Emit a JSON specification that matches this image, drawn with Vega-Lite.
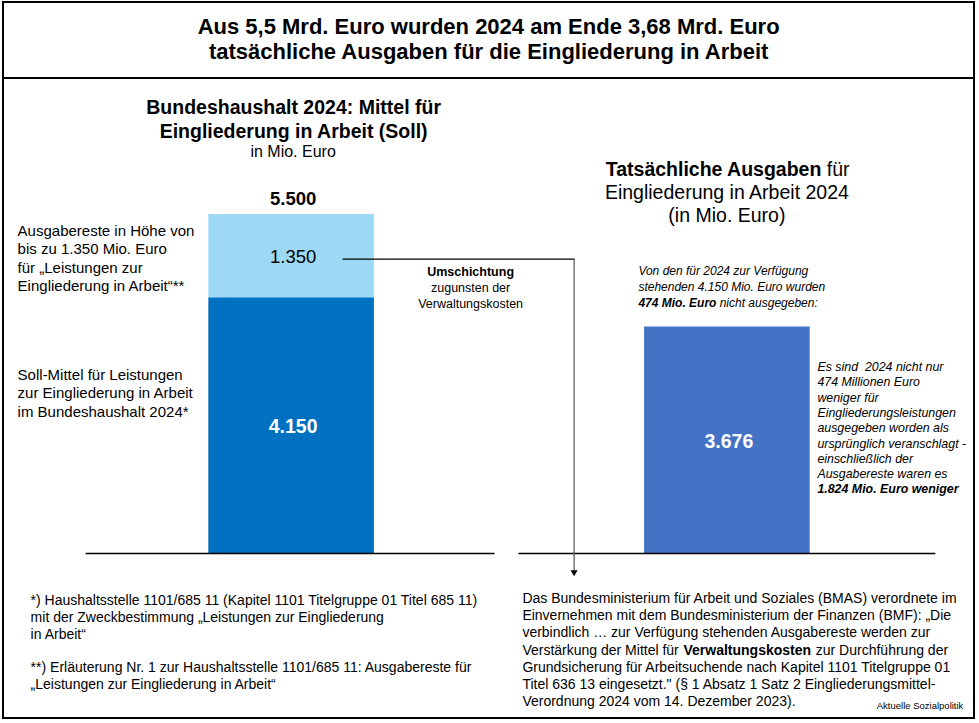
{
  "$schema": "https://vega.github.io/schema/vega-lite/v6.json",
  "width": 979,
  "height": 723,
  "autosize": {"type": "fit", "contains": "padding"},
  "padding": {"left": 2, "top": 2, "right": 4, "bottom": 5},
  "background": "white",
  "config": {
    "view": {"stroke": "black", "strokeWidth": 2},
    "locale": {"number": {"decimal": ",", "thousands": ".", "grouping": [3], "currency": ["", " €"]}},
    "text": {"font": "Liberation Sans", "color": "black"}
  },
  "datasets": {
    "haushalt": [
      {"gruppe": "Soll", "teil": "Soll-Mittel", "wert": 4150},
      {"gruppe": "Soll", "teil": "Ausgabereste", "wert": 1350},
      {"gruppe": "Ist", "teil": "Ist-Ausgaben", "wert": 3676}
    ],
    "eins": [{}]
  },
  "layer": [
    {
      "data": {"name": "haushalt"},
      "mark": {"type": "bar"},
      "encoding": {
        "x": {"field": "gruppe", "type": "nominal", "axis": null,
              "scale": {"domain": ["Soll", "Ist"], "range": [16.5, 995.5], "paddingInner": 0.62, "paddingOuter": 0.4333}},
        "y": {"field": "wert", "type": "quantitative", "axis": null, "stack": "zero",
              "scale": {"domain": [-2665, 8935], "nice": false, "zero": false}},
        "color": {"field": "teil", "type": "nominal", "legend": null,
                  "scale": {"domain": ["Ausgabereste", "Soll-Mittel", "Ist-Ausgaben"], "range": ["#9DD9F5", "#0070C0", "#4472C4"]}},
        "order": {"field": "teil", "sort": "descending"}
      }
    },
    {
      "data": {"name": "haushalt"},
      "mark": {"type": "text", "fontSize": 18.5, "baseline": "middle", "dy": 1.5, "dx": 2},
      "encoding": {
        "x": {"field": "gruppe", "type": "nominal", "axis": null},
        "y": {"field": "wert", "type": "quantitative", "axis": null, "stack": "zero", "bandPosition": 0.5},
        "detail": {"field": "teil"},
        "order": {"field": "teil", "sort": "descending"},
        "text": {"field": "wert", "type": "quantitative", "format": ",d"},
        "opacity": {"condition": {"test": "datum.teil === 'Ausgabereste'", "value": 1}, "value": 0}
      }
    },
    {
      "data": {"name": "haushalt"},
      "mark": {"type": "text", "fontSize": 19.5, "fontWeight": "bold", "color": "white", "baseline": "middle", "dy": 1.5, "dx": 2},
      "encoding": {
        "x": {"field": "gruppe", "type": "nominal", "axis": null},
        "y": {"field": "wert", "type": "quantitative", "axis": null, "stack": "zero", "bandPosition": 0.5},
        "detail": {"field": "teil"},
        "order": {"field": "teil", "sort": "descending"},
        "text": {"field": "wert", "type": "quantitative", "format": ",d"},
        "opacity": {"condition": {"test": "datum.teil === 'Ausgabereste'", "value": 0}, "value": 1}
      }
    },
    {
      "data": {"name": "haushalt"},
      "transform": [
        {"filter": "datum.gruppe === 'Soll'"},
        {"aggregate": [{"op": "sum", "field": "wert", "as": "summe"}], "groupby": ["gruppe"]}
      ],
      "mark": {"type": "text", "fontSize": 18.5, "fontWeight": "bold", "baseline": "middle", "dy": -15, "dx": 2},
      "encoding": {
        "x": {"field": "gruppe", "type": "nominal", "axis": null},
        "y": {"field": "summe", "type": "quantitative", "axis": null},
        "text": {"field": "summe", "type": "quantitative", "format": ",d"}
      }
    },
    {
      "data": {"name": "eins"},
      "mark": {"type": "rule", "strokeWidth": 2, "color": "black"},
      "encoding": {"y": {"datum": 7703, "axis": null}}
    },
    {
      "data": {"name": "eins"},
      "mark": {"type": "rule", "strokeWidth": 1.5, "color": "black", "xOffset": -205.5, "x2Offset": 203.5},
      "encoding": {"x": {"datum": "Soll", "axis": null}, "x2": {"datum": "Soll"}, "y": {"datum": 0, "axis": null}}
    },
    {
      "data": {"name": "eins"},
      "mark": {"type": "rule", "strokeWidth": 1.5, "color": "black", "xOffset": -208.5, "x2Offset": 208.5},
      "encoding": {"x": {"datum": "Ist", "axis": null}, "x2": {"datum": "Ist"}, "y": {"datum": 0, "axis": null}}
    },
    {
      "data": {"name": "eins"},
      "mark": {"type": "rule", "strokeWidth": 1.2, "color": "black", "xOffset": 51.5, "x2Offset": 283.5},
      "encoding": {"x": {"datum": "Soll", "axis": null}, "x2": {"datum": "Soll"}, "y": {"datum": 4770, "axis": null}}
    },
    {
      "data": {"name": "eins"},
      "mark": {"type": "rule", "strokeWidth": 1.2, "color": "#555555", "xOffset": 283},
      "encoding": {"x": {"datum": "Soll", "axis": null}, "y": {"datum": 4770, "axis": null}, "y2": {"datum": -280}}
    },
    {
      "data": {"name": "eins"},
      "mark": {"type": "point", "shape": "triangle-down", "filled": true, "size": 50, "color": "black", "opacity": 1, "xOffset": 283},
      "encoding": {"x": {"datum": "Soll", "axis": null}, "y": {"datum": -320, "axis": null}}
    },
    {
      "data": {"name": "eins"},
      "mark": {"type": "text", "align": "center", "baseline": "middle", "fontSize": 22, "fontWeight": "bold", "lineHeight": 25, "dx": 197.5,
               "text": ["Aus 5,5 Mrd. Euro wurden 2024 am Ende 3,68 Mrd. Euro", "tatsächliche Ausgaben für die Eingliederung in Arbeit"]},
      "encoding": {"x": {"datum": "Soll", "axis": null}, "y": {"datum": 8530, "axis": null}}
    },
    {
      "data": {"name": "eins"},
      "mark": {"type": "text", "align": "center", "baseline": "middle", "fontSize": 19.5, "fontWeight": "bold", "lineHeight": 24, "dx": 2.5,
               "text": ["Bundeshaushalt 2024: Mittel für", "Eingliederung in Arbeit (Soll)"]},
      "encoding": {"x": {"datum": "Soll", "axis": null}, "y": {"datum": 7217, "axis": null}}
    },
    {
      "data": {"name": "eins"},
      "mark": {"type": "text", "align": "center", "baseline": "middle", "fontSize": 16, "dx": 2, "text": "in Mio. Euro"},
      "encoding": {"x": {"datum": "Soll", "axis": null}, "y": {"datum": 6505, "axis": null}}
    },
    {
      "data": {"name": "eins"},
      "mark": {"type": "text", "align": "left", "baseline": "middle", "fontSize": 15, "lineHeight": 18.3, "dx": -273.5,
               "text": ["Ausgabereste in Höhe von", "bis zu 1.350 Mio. Euro", "für „Leistungen zur", "Eingliederung in Arbeit“**"]},
      "encoding": {"x": {"datum": "Soll", "axis": null}, "y": {"datum": 5225, "axis": null}}
    },
    {
      "data": {"name": "eins"},
      "mark": {"type": "text", "align": "left", "baseline": "middle", "fontSize": 15, "lineHeight": 18.3, "dx": -273.5,
               "text": ["Soll-Mittel für Leistungen", "zur Eingliederung in Arbeit", "im Bundeshaushalt 2024*"]},
      "encoding": {"x": {"datum": "Soll", "axis": null}, "y": {"datum": 2892, "axis": null}}
    },
    {
      "data": {"name": "eins"},
      "mark": {"type": "text", "align": "center", "baseline": "middle", "fontSize": 12.5, "fontWeight": "bold", "dx": 179.5, "text": "Umschichtung"},
      "encoding": {"x": {"datum": "Soll", "axis": null}, "y": {"datum": 4560, "axis": null}}
    },
    {
      "data": {"name": "eins"},
      "mark": {"type": "text", "align": "center", "baseline": "middle", "fontSize": 12.5, "lineHeight": 16, "dx": 179.5,
               "text": ["zugunsten der", "Verwaltungskosten"]},
      "encoding": {"x": {"datum": "Soll", "axis": null}, "y": {"datum": 4301, "axis": null}}
    },
    {
      "data": {"name": "eins"},
      "mark": {"type": "text", "align": "right", "baseline": "middle", "fontSize": 19.5, "fontWeight": "bold", "dx": 94.5, "text": "Tatsächliche Ausgaben"},
      "encoding": {"x": {"datum": "Ist", "axis": null}, "y": {"datum": 6213, "axis": null}}
    },
    {
      "data": {"name": "eins"},
      "mark": {"type": "text", "align": "left", "baseline": "middle", "fontSize": 19.5, "dx": 99.9, "text": "für"},
      "encoding": {"x": {"datum": "Ist", "axis": null}, "y": {"datum": 6213, "axis": null}}
    },
    {
      "data": {"name": "eins"},
      "mark": {"type": "text", "align": "center", "baseline": "middle", "fontSize": 19.5, "lineHeight": 23, "dx": 0,
               "text": ["Eingliederung in Arbeit 2024", "(in Mio. Euro)"]},
      "encoding": {"x": {"datum": "Ist", "axis": null}, "y": {"datum": 5840, "axis": null}}
    },
    {
      "data": {"name": "eins"},
      "mark": {"type": "text", "align": "left", "baseline": "middle", "fontSize": 12, "fontStyle": "italic", "lineHeight": 16, "dx": -88.5,
               "text": ["Von den für 2024 zur Verfügung", "stehenden 4.150 Mio. Euro wurden"]},
      "encoding": {"x": {"datum": "Ist", "axis": null}, "y": {"datum": 4577, "axis": null}}
    },
    {
      "data": {"name": "eins"},
      "mark": {"type": "text", "align": "left", "baseline": "middle", "fontSize": 12, "fontStyle": "italic", "fontWeight": "bold", "dx": -88.5, "text": "474 Mio. Euro"},
      "encoding": {"x": {"datum": "Ist", "axis": null}, "y": {"datum": 4058, "axis": null}}
    },
    {
      "data": {"name": "eins"},
      "mark": {"type": "text", "align": "left", "baseline": "middle", "fontSize": 12, "fontStyle": "italic", "dx": -7.2, "text": "nicht ausgegeben:"},
      "encoding": {"x": {"datum": "Ist", "axis": null}, "y": {"datum": 4058, "axis": null}}
    },
    {
      "data": {"name": "eins"},
      "mark": {"type": "text", "align": "left", "baseline": "middle", "fontSize": 12.4, "fontStyle": "italic", "lineHeight": 15.3, "dx": 90.5,
               "text": ["Es sind \u00a02024 nicht nur", "474 Millionen Euro", "weniger für", "Eingliederungsleistungen", "ausgegeben worden als", "ursprünglich veranschlagt -", "einschließlich der", "Ausgabereste waren es"]},
      "encoding": {"x": {"datum": "Ist", "axis": null}, "y": {"datum": 3021, "axis": null}}
    },
    {
      "data": {"name": "eins"},
      "mark": {"type": "text", "align": "left", "baseline": "middle", "fontSize": 12.4, "fontStyle": "italic", "fontWeight": "bold", "dx": 90.5, "text": "1.824 Mio. Euro weniger"},
      "encoding": {"x": {"datum": "Ist", "axis": null}, "y": {"datum": 1038, "axis": null}}
    },
    {
      "data": {"name": "eins"},
      "mark": {"type": "text", "align": "left", "baseline": "middle", "fontSize": 14, "lineHeight": 17, "dx": -260.5,
               "text": ["*) Haushaltsstelle 1101/685 11 (Kapitel 1101 Titelgruppe 01 Titel 685 11)", "mit der Zweckbestimmung „Leistungen zur Eingliederung", "in Arbeit“"]},
      "encoding": {"x": {"datum": "Soll", "axis": null}, "y": {"datum": -770, "axis": null}}
    },
    {
      "data": {"name": "eins"},
      "mark": {"type": "text", "align": "left", "baseline": "middle", "fontSize": 14, "lineHeight": 17, "dx": -260.5,
               "text": ["**) Erläuterung Nr. 1 zur Haushaltsstelle 1101/685 11: Ausgabereste für", "„Leistungen zur Eingliederung in Arbeit“"]},
      "encoding": {"x": {"datum": "Soll", "axis": null}, "y": {"datum": -1855, "axis": null}}
    },
    {
      "data": {"name": "eins"},
      "mark": {"type": "text", "align": "left", "baseline": "middle", "fontSize": 14, "lineHeight": 17.2, "dx": -204.5,
               "text": ["Das Bundesministerium für Arbeit und Soziales (BMAS) verordnete im", "Einvernehmen mit dem Bundesministerium der Finanzen (BMF): „Die", "verbindlich … zur Verfügung stehenden Ausgabereste werden zur"]},
      "encoding": {"x": {"datum": "Ist", "axis": null}, "y": {"datum": -737, "axis": null}}
    },
    {
      "data": {"name": "eins"},
      "mark": {"type": "text", "align": "left", "baseline": "middle", "fontSize": 14, "dx": -204.5, "text": "Verstärkung der Mittel für"},
      "encoding": {"x": {"datum": "Ist", "axis": null}, "y": {"datum": -1573, "axis": null}}
    },
    {
      "data": {"name": "eins"},
      "mark": {"type": "text", "align": "left", "baseline": "middle", "fontSize": 14, "fontWeight": "bold", "dx": -43.4, "text": "Verwaltungskosten"},
      "encoding": {"x": {"datum": "Ist", "axis": null}, "y": {"datum": -1573, "axis": null}}
    },
    {
      "data": {"name": "eins"},
      "mark": {"type": "text", "align": "left", "baseline": "middle", "fontSize": 14, "dx": 88.9, "text": "zur Durchführung der"},
      "encoding": {"x": {"datum": "Ist", "axis": null}, "y": {"datum": -1573, "axis": null}}
    },
    {
      "data": {"name": "eins"},
      "mark": {"type": "text", "align": "left", "baseline": "middle", "fontSize": 14, "lineHeight": 17.2, "dx": -204.5,
               "text": ["Grundsicherung für Arbeitsuchende nach Kapitel 1101 Titelgruppe 01", "Titel 636 13 eingesetzt.\" (§ 1 Absatz 1 Satz 2 Eingliederungsmittel-", "Verordnung 2024 vom 14. Dezember 2023)."]},
      "encoding": {"x": {"datum": "Ist", "axis": null}, "y": {"datum": -1852, "axis": null}}
    },
    {
      "data": {"name": "eins"},
      "mark": {"type": "text", "align": "right", "baseline": "middle", "fontSize": 9.5, "dx": 236.5, "text": "Aktuelle Sozialpolitik"},
      "encoding": {"x": {"datum": "Ist", "axis": null}, "y": {"datum": -2470, "axis": null}}
    }
  ]
}
